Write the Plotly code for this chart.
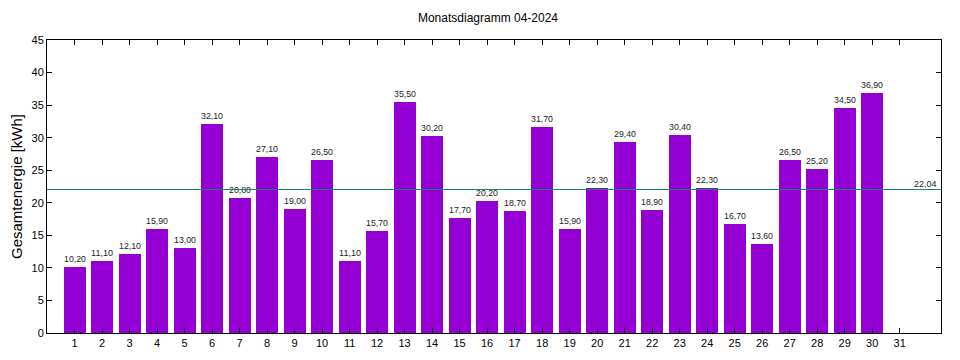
import plotly.graph_objects as go

days = list(range(1, 32))
values = [10.2, 11.1, 12.1, 15.9, 13.0, 32.1, 20.8, 27.1, 19.0, 26.5,
          11.1, 15.7, 35.5, 30.2, 17.7, 20.2, 18.7, 31.7, 15.9, 22.3,
          29.4, 18.9, 30.4, 22.3, 16.7, 13.6, 26.5, 25.2, 34.5, 36.9, None]
average = 22.04
title = "Monatsdiagramm 04-2024"
y_title = "Gesamtenergie [kWh]"

def fmt(v):
    return "" if v is None else f"{v:.2f}".replace(".", ",")

fig = go.Figure()
fig.add_trace(go.Bar(
    x=days, y=values, width=0.8,
    marker=dict(color="#9400D3", line=dict(width=0)),
    text=[fmt(v) for v in values], textposition="outside",
    textfont=dict(family="Liberation Sans", size=9, color="#222222"),
    cliponaxis=False, hoverinfo="x+y",
))
fig.add_shape(type="line", xref="paper", x0=0, x1=1, yref="y", y0=average, y1=average,
              line=dict(color="#138a66", width=1))
fig.add_annotation(xref="paper", x=0.998, yref="y", y=average, text=fmt(average),
                   showarrow=False, xanchor="right", yanchor="bottom", yshift=-1,
                   font=dict(family="Liberation Sans", size=9, color="#222222"))

fig.update_layout(
    width=960, height=360,
    margin=dict(l=39, r=27, t=32, b=35, autoexpand=False),
    paper_bgcolor="white", plot_bgcolor="white",
    title=dict(text=title, x=0.5, xanchor="center", y=0.972, yanchor="middle",
               font=dict(family="Liberation Sans", size=12, color="black")),
    font=dict(family="Liberation Sans", size=11, color="black"),
    showlegend=False,
    bargap=0,
)
fig.update_xaxes(range=[0, 32.5], tickmode="array", tickvals=days,
                 ticktext=[str(d) for d in days],
                 ticks="inside", ticklen=5, tickcolor="black",
                 showline=True, linecolor="black", linewidth=1, mirror="ticks",
                 showgrid=False, zeroline=False, fixedrange=True, automargin=False,
                 tickfont=dict(size=11))
fig.update_yaxes(range=[0, 45], tickmode="linear", tick0=0, dtick=5,
                 ticks="inside", ticklen=5, tickcolor="black",
                 showline=True, linecolor="black", linewidth=1, mirror="ticks",
                 showgrid=False, zeroline=False, automargin=False,
                 title=dict(text=y_title, font=dict(size=15), standoff=12),
                 tickfont=dict(size=11))

fig.write_html("out.html")
